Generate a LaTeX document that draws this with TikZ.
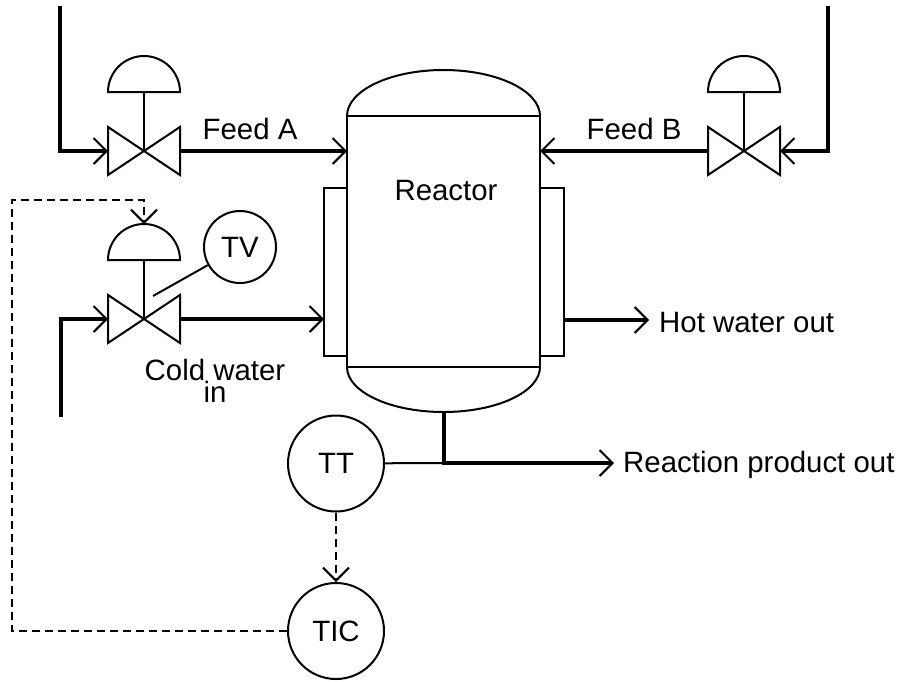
\documentclass[tikz,border=0pt]{standalone}
\usepackage{fontspec}
\setmainfont{Liberation Sans}
\usetikzlibrary{arrows.meta}
\tikzset{
  pipe/.style={line width=4.5pt},
  thinline/.style={line width=2pt},
  signal/.style={line width=2pt, dash pattern=on 8pt off 5pt},
  tip/.style={-{Straight Barb[length=13pt,width=26pt,line width=2pt 0]}},
  inst/.style={circle, draw, line width=2pt, inner sep=0pt, minimum size=96pt},
  lbl/.style={inner sep=0pt},
  pics/ctlvalve/.style={code={
    \draw[thinline] (-36,-24) -- (36,24) -- (36,-24) -- (-36,24) -- cycle;
    \draw[thinline] (0,0) -- (0,-59);
    \draw[thinline] (-36,-59) arc[start angle=180, end angle=0, radius=36pt] -- cycle;
    \coordinate (-w) at (-36,0);
    \coordinate (-e) at (36,0);
    \coordinate (-top) at (0,-95);
  }}
}
\begin{document}
\begin{tikzpicture}[x=1pt, y=-1pt, font=\fontsize{29.4pt}{22pt}\selectfont]
  \useasboundingbox (0,0) rectangle (904,681);
  % reactor vessel with jackets
  \draw[thinline] (347,116) rectangle (540,367);
  \draw[thinline] (347,116) arc[start angle=180, end angle=0, x radius=96.5pt, y radius=46pt];
  \draw[thinline] (347,367) arc[start angle=180, end angle=360, x radius=96.5pt, y radius=45pt];
  \draw[thinline] (347,188) -| (324,356) -- (347,356);
  \draw[thinline] (540,188) -| (564,356) -- (540,356);
  \node[lbl, anchor=base] (reactor) at (446,200) {Reactor};
  \coordinate (feedA) at (347,151);
  \coordinate (feedB) at (540,151);
  \coordinate (jin) at (324,319);
  \coordinate (jout) at (564,320);
  \coordinate (bot) at (444,412);
  \coordinate (tap) at (444,463);
  % valves
  \pic (fa) at (144,151) {ctlvalve};
  \pic (fb) at (744,151) {ctlvalve};
  \pic (cw) at (144,319) {ctlvalve};
  % feeds
  \coordinate (srcA) at (60,6);
  \coordinate (srcB) at (828,6);
  \draw[pipe, tip] (srcA) |- (fa-w);
  \draw[pipe, tip] (fa-e) -- (feedA);
  \draw[pipe, tip] (srcB) |- (fb-e);
  \draw[pipe, tip] (fb-w) -- (feedB);
  \node[lbl, anchor=base] (labA) at (250,139) {Feed A};
  \node[lbl, anchor=base] (labB) at (634,139) {Feed B};
  % cooling water
  \coordinate (srcC) at (61,417);
  \draw[pipe, tip] (srcC) |- (cw-w);
  \draw[pipe, tip] (cw-e) -- (jin);
  \node[lbl, align=center, anchor=north] (labC) at (215,358.5) {Cold water\\in};
  \coordinate (hwend) at (649,320);
  \draw[pipe, tip] (jout) -- (hwend);
  \node[lbl, anchor=base west] (labH) at (659,332) {Hot water out};
  % product
  \coordinate (prodend) at (614,463);
  \draw[pipe, tip] (bot) |- (prodend);
  \node[lbl, anchor=base west] (labP) at (623,472) {Reaction product out};
  % instruments
  \node[inst, minimum size=72pt] (TV) at (240,247) {TV};
  \coordinate (tvend) at (153,296);
  \draw[thinline] (TV) -- (tvend);
  \node[inst] (TT) at (336,463.5) {TT};
  \node[inst] (TIC) at (336,631) {TIC};
  \draw[thinline] (TT) -- (tap);
  \draw[signal, tip] (TT) -- (TIC);
  \draw[signal, tip] (TIC.west) -| (12,200) -| (cw-top);
\end{tikzpicture}
\end{document}
